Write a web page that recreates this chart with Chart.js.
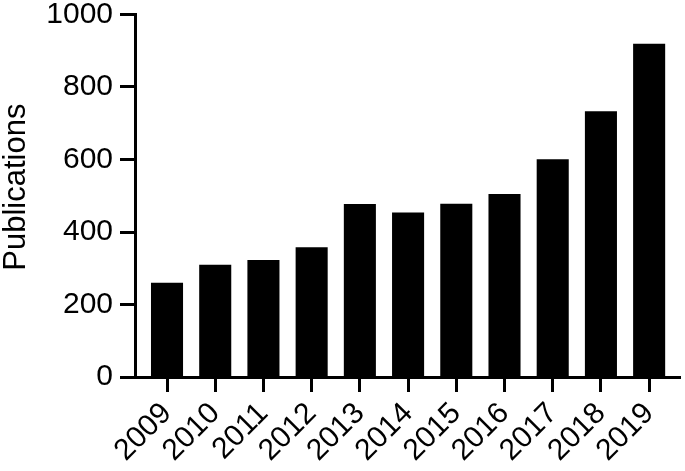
<!DOCTYPE html>
<html>
<head>
<meta charset="utf-8">
<script src="https://cdn.jsdelivr.net/npm/chart.js@4/dist/chart.umd.min.js"></script>
<style>
  html, body { margin: 0; padding: 0; background: #fff; }
  #wrap { width: 685px; height: 471px; }
</style>
</head>
<body>
<div id="wrap"><canvas id="c" width="685" height="471"></canvas></div>
<script>
const years = [2009, 2010, 2011, 2012, 2013, 2014, 2015, 2016, 2017, 2018, 2019];
const publications = [260, 310, 323, 358, 477, 454, 478, 505, 601, 733, 919];
const yTicks = [0, 200, 400, 600, 800, 1000];
const yTitle = 'Publications';

const FONT = "'Liberation Sans', Arial, Helvetica, sans-serif";

new Chart(document.getElementById('c'), {
  type: 'bar',
  data: {
    datasets: [{
      data: years.map((y, i) => ({ x: y, y: publications[i] })),
      backgroundColor: '#000',
      borderWidth: 0,
      barPercentage: 0.665,
      categoryPercentage: 1
    }]
  },
  options: {
    responsive: false,
    animation: false,
    devicePixelRatio: 1,
    layout: { autoPadding: false, padding: { top: 4, right: 5, left: 0, bottom: 0 } },
    plugins: { legend: { display: false }, tooltip: { enabled: false } },
    scales: {
      x: {
        type: 'linear',
        offset: false,
        min: 2008.336,
        max: 2019.64,
        border: { display: true, color: '#000', width: 3 },
        grid: { display: true, offset: false, drawOnChartArea: false, drawTicks: true, tickLength: 15, tickWidth: 3, tickColor: '#000', color: '#000' },
        ticks: {
          stepSize: 1,
          includeBounds: false,
          autoSkip: false,
          maxRotation: 45,
          minRotation: 45,
          padding: 4,
          color: '#000',
          font: { family: FONT, size: 30 },
          callback: v => String(v)
        },
        afterFit: s => { s.height = 94; }
      },
      y: {
        min: 0,
        max: 1000,
        border: { display: true, color: '#000', width: 3 },
        grid: { display: true, drawOnChartArea: false, drawTicks: true, tickLength: 15, tickWidth: 3, tickColor: '#000', color: '#000' },
        afterBuildTicks: s => { s.ticks = yTicks.map(v => ({ value: v })); },
        ticks: {
          padding: 7,
          color: '#000',
          font: { family: FONT, size: 30, lineHeight: 0.5 },
          callback: v => String(v)
        },
        title: {
          display: true,
          text: '  ' + yTitle,
          color: '#000',
          font: { family: FONT, size: 31, lineHeight: 0.9 },
          padding: { top: 3, bottom: 0 }
        },
        afterFit: s => { s.width = 135; }
      }
    }
  }
});
</script>
</body>
</html>
